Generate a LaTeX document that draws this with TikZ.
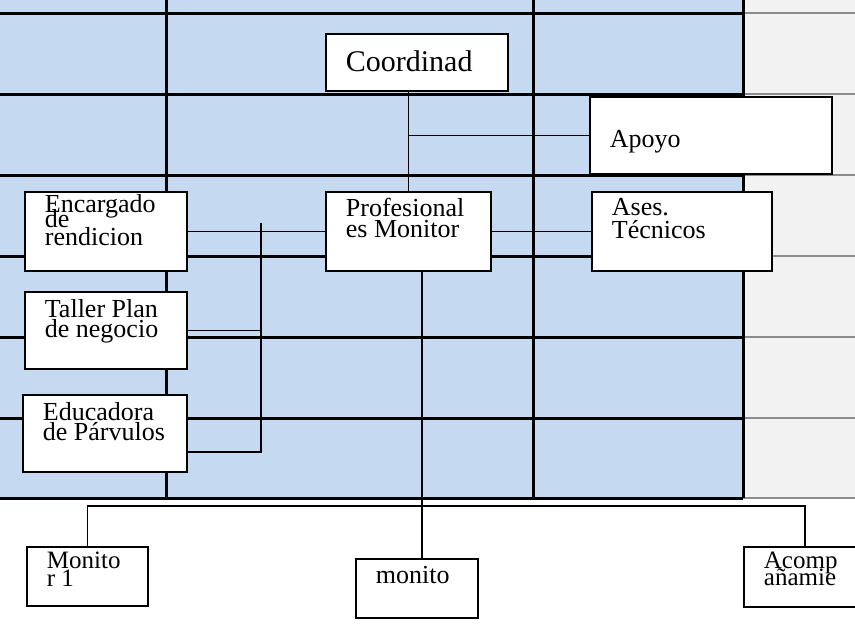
\documentclass[tikz,border=0pt]{standalone}
\usepackage{fontspec}
\setmainfont{Liberation Serif}
\definecolor{bgblue}{RGB}{197,217,241}
\definecolor{bggray}{RGB}{242,242,242}
\definecolor{gridgray}{RGB}{140,140,140}
\newcommand\boxcontent[4]{\parbox[c][#2pt][t]{#1pt}{\lineskiplimit=-100pt\lineskip=0pt\leftskip=20pt\rightskip=0pt plus 1fil\rule{0pt}{#3pt}#4}}
\tikzset{
  orgbox/.style={draw=black, line width=1.8pt, fill=white, inner sep=0pt, anchor=north west, font=\fontsize{26}{0}\selectfont},
  conn/.style={draw=black, line width=1.8pt},
  gridblack/.style={draw=black, line width=3pt},
  gridlight/.style={draw=gridgray, line width=2.5pt}
}
\begin{document}
\begin{tikzpicture}[x=1pt,y=-1pt]
\useasboundingbox (0,0) rectangle (855,627);
% background
\fill[bgblue] (0,0) rectangle (743,498);
\fill[bggray] (743,0) rectangle (855,498);
\foreach \yy in {13,94,175,256,337,418,498} {
  \draw[gridblack] (0,\yy) -- (743,\yy);
  \draw[gridlight] (743,\yy) -- (855,\yy);
}
\foreach \xx in {166,533,743} {
  \draw[gridblack] (\xx,0) -- (\xx,498);
}
% boxes
\node[orgbox, font=\fontsize{30}{0}\selectfont] (coord) at (325,33) {\boxcontent{182}{57}{38}{Coordinad}};
\node[orgbox] (apoyo) at (589,96) {\boxcontent{242}{77}{51}{Apoyo}};
\node[orgbox] (enc) at (24,191) {\boxcontent{162}{79}{21}{Encargado\\[15pt]de\\[18pt]rendicion}};
\node[orgbox] (prof) at (325,191) {\boxcontent{165}{79}{25}{Profesional\\[21pt]es Monitor}};
\node[orgbox] (ases) at (591,191) {\boxcontent{180}{79}{24}{Ases.\\[23pt]Técnicos}};
\node[orgbox] (taller) at (24,291) {\boxcontent{162}{77}{26}{Taller Plan\\[20pt]de negocio}};
\node[orgbox] (educ) at (22,394) {\boxcontent{164}{77}{26}{Educadora\\[20pt]de Párvulos}};
\node[orgbox, font=\fontsize{25}{0}\selectfont] (mon1) at (26,546) {\boxcontent{121}{59}{22}{Monito\\[18pt]r 1}};
\node[orgbox] (monito) at (355,558) {\boxcontent{122}{59}{25}{monito}};
\node[orgbox, font=\fontsize{25}{0}\selectfont] (acomp) at (743,546) {\boxcontent{122}{60}{22}{Acomp\\[17pt]añamie}};
% connectors
\coordinate (busTop) at (261,223);
\coordinate (busBot) at (261,452);
\coordinate (lowBus) at (0,506);
\draw[conn] (prof.north) -- (prof.north |- coord.south);
\draw[conn] (apoyo.west) -- (apoyo.west -| prof.north);
\draw[conn] (prof.east) -- (ases.west);
\draw[conn] (enc.east) -- (prof.west);
\draw[conn] (busTop) -- (busBot) -- (busBot -| educ.east);
\draw[conn] (taller.east) -- (taller.east -| busTop);
\draw[conn] ([xshift=5pt]monito.north) -- ([xshift=5pt]monito.north |- prof.south);
\draw[conn] (mon1.north) -- (mon1.north |- lowBus) -- (acomp.north |- lowBus) -- (acomp.north);
\end{tikzpicture}
\end{document}
